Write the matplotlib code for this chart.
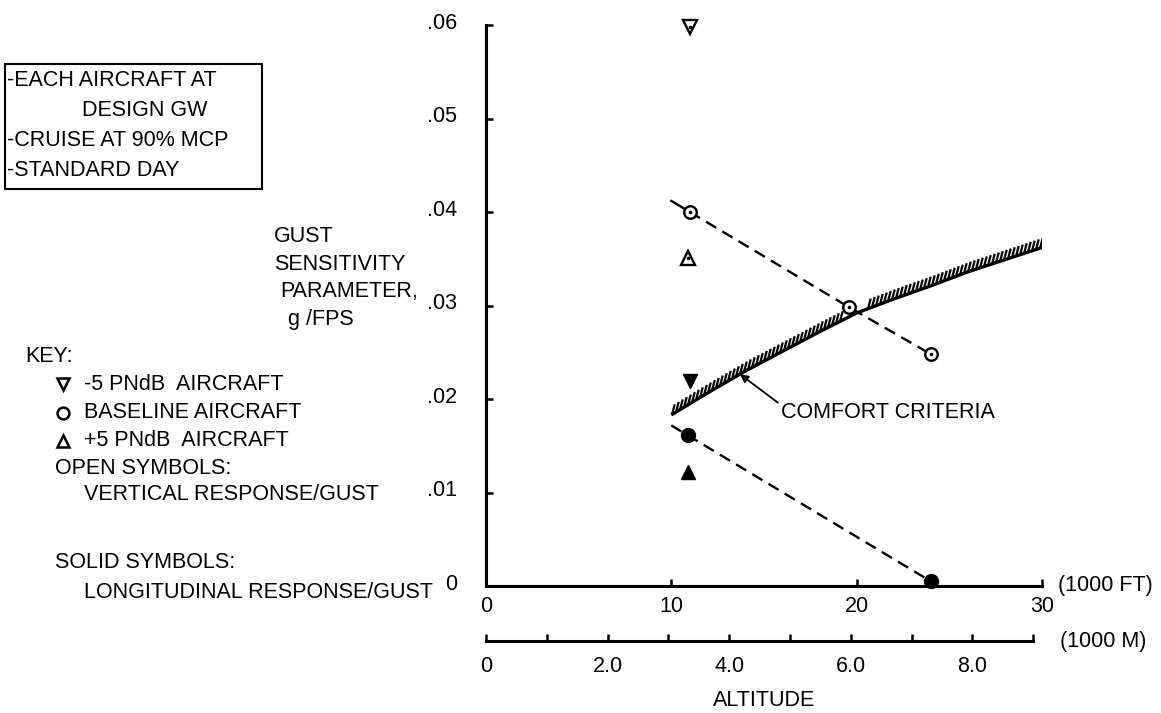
import numpy as np
import matplotlib
matplotlib.use("Agg")
import matplotlib.pyplot as plt
from matplotlib import font_manager
from matplotlib.collections import LineCollection
from matplotlib.patches import Rectangle
from matplotlib.transforms import ScaledTranslation

# ---------------------------------------------------------------- data
# altitude in 1000 ft, gust sensitivity in g/FPS
baseline_alt = [11.0, 19.6, 24.0]
baseline_vertical = [0.0400, 0.0298, 0.0248]
baseline_long_alt = [10.9, 24.0]
baseline_longitudinal = [0.0161, 0.0005]

minus5_alt = [11.0]
minus5_vertical = [0.0598]
minus5_longitudinal = [0.0219]

plus5_alt = [10.9]
plus5_vertical = [0.0351]
plus5_longitudinal = [0.0122]

comfort_alt = [10, 12, 14, 16, 18, 20, 22, 24, 26, 28, 30]
comfort_gust = [0.0183, 0.0207, 0.0230, 0.0251, 0.0272, 0.0292,
                0.0307, 0.0321, 0.0336, 0.0349, 0.0362]

ft_ticks = [0, 10, 20, 30]
ft_labels = ["0", "10", "20", "30"]
m_ticks = [0, 1, 2, 3, 4, 5, 6, 7, 8, 9]
m_labels = ["0", "", "2.0", "", "4.0", "", "6.0", "", "8.0", ""]
y_ticks = [0, 0.01, 0.02, 0.03, 0.04, 0.05, 0.06]
y_labels = ["0", ".01", ".02", ".03", ".04", ".05", ".06"]

box_lines = ["-EACH AIRCRAFT AT", "DESIGN GW", "-CRUISE AT 90% MCP", "-STANDARD DAY"]
ylabel_lines = ["GUST", "SENSITIVITY", "PARAMETER,", "g /FPS"]

# ---------------------------------------------------------------- fonts
def pick_font(cands):
    for c in cands:
        try:
            font_manager.findfont(c, fallback_to_default=False)
            return c
        except Exception:
            continue
    return "DejaVu Sans"

FONT = pick_font(["Liberation Sans", "Arimo", "DejaVu Sans"])
plt.rcParams["font.family"] = [FONT, "DejaVu Sans"]
FS = 15.5

W, H = 1161, 713
fig = plt.figure(figsize=(W / 100, H / 100), dpi=100)


def fx(px):
    return px / W


def fy(py):
    return 1 - py / H


# ---------------------------------------------------------------- main axes
X0, X1, Y0, Y1 = 486, 1042, 586, 25
ax = fig.add_axes([fx(X0), fy(Y0), (X1 - X0) / W, (Y0 - Y1) / H])
ax.set_xlim(0, 30)
ax.set_ylim(0, 0.06)
for s in ("top", "right"):
    ax.spines[s].set_visible(False)
for s in ("left", "bottom"):
    ax.spines[s].set_linewidth(2.2)
ax.set_xticks(ft_ticks)
ax.set_xticklabels(ft_labels, fontsize=FS)
ax.set_yticks(y_ticks)
ax.set_yticklabels(y_labels, fontsize=FS)
ax.tick_params(axis="x", direction="in", length=5, width=1.8, pad=7)
ax.tick_params(axis="y", direction="in", length=5, width=1.8, pad=21)
for lbl in ax.get_yticklabels():
    lbl.set_transform(lbl.get_transform() + ScaledTranslation(0, 3 / 72, fig.dpi_scale_trans))

# comfort criteria boundary with short hatching on its upper side
ax.plot(comfort_alt, comfort_gust, color="black", lw=2.4, solid_capstyle="butt")
hatch_gap = (19.3, 20.6)
trans = ax.transData
pts = trans.transform(np.column_stack([comfort_alt, comfort_gust]))
px = np.arange(pts[0, 0] + 1, pts[-1, 0], 4.0)
py = np.interp(px, pts[:, 0], pts[:, 1])
inv = trans.inverted()
segs = []
for x, y in zip(px, py):
    a = inv.transform((x, y + 1))
    b = inv.transform((x + 2.4, y + 10))
    if hatch_gap[0] < a[0] < hatch_gap[1]:
        continue
    segs.append([a, b])
ax.add_collection(LineCollection(segs, colors="black", linewidths=1.6))

# baseline aircraft trend lines (extended back to 10,000 ft)
dash = (0, (5, 3))
slope_v = (baseline_vertical[1] - baseline_vertical[0]) / (baseline_alt[1] - baseline_alt[0])
v_start = baseline_vertical[0] + slope_v * (10 - baseline_alt[0])
ax.plot([10, baseline_alt[0]], [v_start, baseline_vertical[0]], color="black", lw=1.7)
ax.plot(baseline_alt, baseline_vertical, color="black", lw=1.7, ls=dash)
slope_l = (baseline_longitudinal[1] - baseline_longitudinal[0]) / (baseline_long_alt[1] - baseline_long_alt[0])
l_start = baseline_longitudinal[0] + slope_l * (10 - baseline_long_alt[0])
ax.plot([10] + baseline_long_alt, [l_start] + baseline_longitudinal,
        color="black", lw=1.7, ls=dash)

# symbols
open_kw = dict(ls="none", mfc="white", mec="black", mew=1.7, clip_on=False, zorder=5)
solid_kw = dict(ls="none", mfc="black", mec="black", clip_on=False, zorder=5)
dot_kw = dict(ls="none", marker="o", ms=1.6, color="black", clip_on=False, zorder=6)

ax.plot(baseline_alt, baseline_vertical, marker="o", ms=9, **open_kw)
ax.plot(baseline_alt, baseline_vertical, **dot_kw)
ax.plot(minus5_alt, minus5_vertical, marker="v", ms=9.5, **open_kw)
ax.plot(minus5_alt, minus5_vertical, **dot_kw)
ax.plot(plus5_alt, plus5_vertical, marker="^", ms=9.5, **open_kw)
ax.plot(plus5_alt, plus5_vertical, **dot_kw)

ax.plot(baseline_long_alt, baseline_longitudinal, marker="o", ms=10, **solid_kw)
ax.plot(minus5_alt, minus5_longitudinal, marker="v", ms=10, **solid_kw)
ax.plot(plus5_alt, plus5_longitudinal, marker="^", ms=10, **solid_kw)

# comfort criteria call-out
arrow_x = 13.7
ax.annotate("COMFORT CRITERIA",
            xy=(arrow_x, np.interp(arrow_x, comfort_alt, comfort_gust)),
            xytext=(15.9, 0.0186), ha="left", va="center", fontsize=FS,
            arrowprops=dict(arrowstyle="-|>", color="black", lw=1.3,
                            mutation_scale=12, relpos=(0, 0.85),
                            shrinkA=0, shrinkB=0))

# ---------------------------------------------------------------- metric axis
KM_PER_KFT = 0.3048
axm = fig.add_axes([fx(X0), fy(641), (X1 - X0) / W, 0.001])
axm.set_xlim(0, 30 * KM_PER_KFT)
axm.set_ylim(0, 1)
for s in ("top", "right", "left"):
    axm.spines[s].set_visible(False)
axm.spines["bottom"].set_linewidth(2.2)
axm.spines["bottom"].set_bounds(0, 9)
axm.set_yticks([])
axm.set_xticks(m_ticks)
axm.set_xticklabels(m_labels, fontsize=FS)
axm.tick_params(axis="x", direction="in", length=5, width=1.8, pad=11)
axm.patch.set_visible(False)

# ---------------------------------------------------------------- texts
fig.text(fx(1058), fy(585), "(1000 FT)", fontsize=FS, ha="left", va="center")
fig.text(fx(1060), fy(642), "(1000 M)", fontsize=FS, ha="left", va="center")
fig.text(fx(764), fy(700), "ALTITUDE", fontsize=FS, ha="center", va="center")

ylab_x = [274, 274, 280, 288]
ylab_y = [236, 264, 292, 320]
for t, x, y in zip(ylabel_lines, ylab_x, ylab_y):
    fig.text(fx(x), fy(y), t, fontsize=FS, ha="left", va="center")

box_x = [7, 82, 7, 7]
box_y = [81, 111, 141, 170]
for t, x, y in zip(box_lines, box_x, box_y):
    fig.text(fx(x), fy(y), t, fontsize=FS, ha="left", va="center")
fig.patches.append(Rectangle((fx(5), fy(189)), fx(262) - fx(5), fy(64) - fy(189),
                             transform=fig.transFigure, fill=False,
                             edgecolor="black", lw=1.5))

fig.text(fx(25), fy(357), "KEY:", fontsize=FS, ha="left", va="center")
key_y = [384, 413, 441]
key_markers = ["v", "o", "^"]
key_texts = ["-5 PNdB  AIRCRAFT", "BASELINE AIRCRAFT", "+5 PNdB  AIRCRAFT"]
for m, t, y in zip(key_markers, key_texts, key_y):
    fig.lines.append(plt.Line2D([fx(63)], [fy(y)], transform=fig.transFigure,
                                marker=m, ms=9 if m != "o" else 8.5, mfc="white",
                                mec="black", mew=1.8, ls="none"))
    fig.text(fx(84), fy(y), t, fontsize=FS, ha="left", va="center")
fig.text(fx(55), fy(468), "OPEN SYMBOLS:", fontsize=FS, ha="left", va="center")
fig.text(fx(84), fy(495), "VERTICAL RESPONSE/GUST", fontsize=FS, ha="left", va="center")
fig.text(fx(55), fy(563), "SOLID SYMBOLS:", fontsize=FS, ha="left", va="center")
fig.text(fx(84), fy(593), "LONGITUDINAL RESPONSE/GUST", fontsize=FS, ha="left", va="center")

fig.savefig("out.png", dpi=100)
